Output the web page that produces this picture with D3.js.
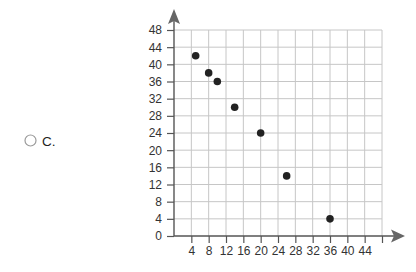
<!DOCTYPE html>
<html lang="en">
<head>
    <meta charset="UTF-8">
    <title>Scatter C</title>
    <script src="https://cdn.jsdelivr.net/npm/d3@7"></script>
    <style>
        html, body { margin: 0; padding: 0; background: #fff; }
        svg { display: block; font-family: "Liberation Sans", Arial, sans-serif; }
    </style>
</head>
<body>
<div id="chart-space"></div>
<script>
    // data
    var xValues = [5, 8, 10, 14, 20, 26, 36];
    var yValues = [42, 38, 36, 30, 24, 14, 4];
    var xTicks = [4, 8, 12, 16, 20, 24, 28, 32, 36, 40, 44, 48];
    var yTicks = [0, 4, 8, 12, 16, 20, 24, 28, 32, 36, 40, 44, 48];
    var optionLabel = "C.";

    var width = 416;
    var height = 272;

    var svg = d3.select("#chart-space")
                .append("svg")
                .attr("width", width)
                .attr("height", height);

    var xScale = d3.scaleLinear().domain([0, 48]).range([174, 382]);
    var yScale = d3.scaleLinear().domain([0, 48]).range([236, 30]);

    // answer option radio + label
    svg.append("circle")
        .attr("cx", 30.5).attr("cy", 140.5).attr("r", 5.5)
        .attr("fill", "#fff").attr("stroke", "#9a9a9a").attr("stroke-width", 1.2);
    svg.append("text")
        .attr("x", 42).attr("y", 145.5)
        .attr("font-size", 13.5).attr("fill", "#222")
        .text(optionLabel);

    // grid
    svg.append("g").selectAll("line")
        .data(xTicks)
        .join("line")
        .attr("x1", function(d){ return xScale(d); })
        .attr("x2", function(d){ return xScale(d); })
        .attr("y1", yScale(0)).attr("y2", yScale(48))
        .attr("stroke", "#c6c6c6").attr("stroke-width", 1);
    svg.append("g").selectAll("line")
        .data(yTicks.filter(function(d){ return d > 0; }))
        .join("line")
        .attr("y1", function(d){ return yScale(d); })
        .attr("y2", function(d){ return yScale(d); })
        .attr("x1", xScale(0)).attr("x2", xScale(48))
        .attr("stroke", "#c6c6c6").attr("stroke-width", 1);

    // axes
    var xAxis = d3.axisBottom(xScale)
        .tickValues(xTicks)
        .tickSize(7)
        .tickPadding(3)
        .tickFormat(function(d){ return d === 48 ? "" : d; });
    var yAxis = d3.axisLeft(yScale)
        .tickValues(yTicks)
        .tickSize(7)
        .tickPadding(5);

    var gx = svg.append("g").attr("transform", "translate(0," + yScale(0) + ")").call(xAxis);
    var gy = svg.append("g").attr("transform", "translate(" + xScale(0) + ",0)").call(yAxis);
    [gx, gy].forEach(function(g){
        g.select(".domain").remove();
        g.selectAll(".tick line").attr("stroke", "#555").attr("stroke-width", 1.2);
        g.selectAll(".tick text").attr("fill", "#333").attr("font-size", 12)
            .attr("font-family", "'Liberation Sans', Arial, sans-serif");
    });

    // axis lines with arrows
    svg.append("line")
        .attr("x1", xScale(0)).attr("x2", 398)
        .attr("y1", yScale(0)).attr("y2", yScale(0))
        .attr("stroke", "#555").attr("stroke-width", 1.4);
    svg.append("line")
        .attr("x1", xScale(0)).attr("x2", xScale(0))
        .attr("y1", yScale(0)).attr("y2", 16)
        .attr("stroke", "#555").attr("stroke-width", 1.4);

    var ax = xScale(0), ay = yScale(0);
    svg.append("path")
        .attr("d", "M405," + ay + " L391," + (ay - 6.5) + " L394," + ay + " L391," + (ay + 6.5) + "Z")
        .attr("fill", "#666");
    svg.append("path")
        .attr("d", "M" + ax + ",9 L" + (ax - 6) + ",24 L" + ax + ",21 L" + (ax + 6) + ",24Z")
        .attr("fill", "#666");

    // points
    svg.append("g").selectAll("circle")
        .data(xValues)
        .join("circle")
        .attr("cx", function(d){ return xScale(d); })
        .attr("cy", function(d, i){ return yScale(yValues[i]); })
        .attr("r", 3.8)
        .attr("fill", "#222");
</script>
</body>
</html>
